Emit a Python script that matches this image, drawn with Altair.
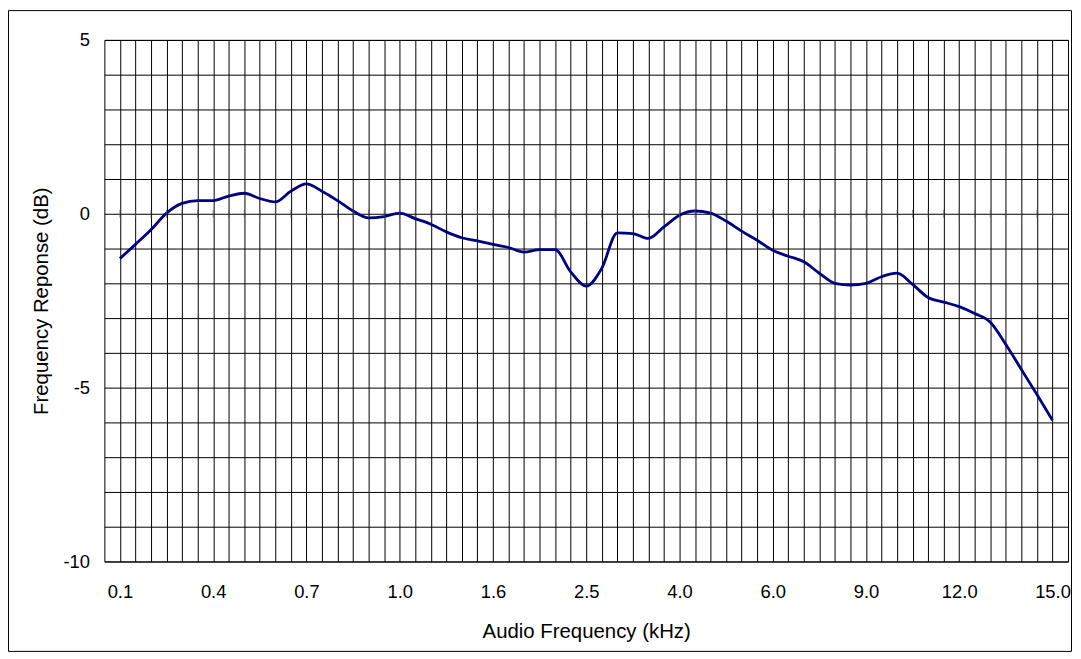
import altair as alt
import pandas as pd

# Category index of each measured point (61 points, labelled every 6th)
tick_labels = ["0.1", "0.4", "0.7", "1.0", "1.6", "2.5", "4.0", "6.0", "9.0", "12.0", "15.0"]
response_db = [
    -1.29, -0.88, -0.46, 0.02, 0.30, 0.38, 0.38, 0.51, 0.59, 0.44, 0.34, 0.65,
    0.86, 0.65, 0.38, 0.08, -0.12, -0.08, 0.02, -0.14, -0.30, -0.52, -0.69, -0.78,
    -0.88, -0.97, -1.10, -1.03, -1.03, -1.67, -2.08, -1.57, -0.55, -0.57, -0.71, -0.38,
    -0.04, 0.08, 0.02, -0.21, -0.50, -0.76, -1.05, -1.22, -1.38, -1.71, -2.00, -2.05,
    -2.00, -1.81, -1.71, -2.03, -2.41, -2.54, -2.67, -2.87, -3.12, -3.76, -4.48, -5.20,
    -5.94,
]
idx = list(range(len(response_db)))
y_ticks = list(range(-10, 6))

df = pd.DataFrame({"i": idx, "db": response_db})
zero_df = pd.DataFrame({"i": idx, "db": [0] * len(idx)})
frame_df = pd.DataFrame({"k": [0]})

label_js = "[" + ",".join("'" + t + "'" for t in tick_labels) + "]"
FONT = "Liberation Sans"

x_scale = alt.Scale(domain=[-1, 61], nice=False, zero=False)
y_scale = alt.Scale(domain=[-10, 5], nice=False, zero=False)

x_axis = alt.Axis(
    values=idx, tickCount=500,
    labelExpr=f"datum.value % 6 == 0 ? {label_js}[datum.value / 6] : ''",
    labelOverlap=False,
    grid=True, gridColor="#000", gridOpacity=1, gridWidth=1,
    ticks=False, domain=False,
    labelFont=FONT, labelFontSize=18.5, labelColor="#000", labelPadding=21,
    title="Audio Frequency (kHz)", titleFont=FONT, titleFontSize=20.5,
    titleFontWeight="normal", titleColor="#000", titlePadding=21,
)
y_axis = alt.Axis(
    values=y_ticks, tickCount=500,
    labelExpr="datum.value % 5 == 0 ? '' + datum.value : ''",
    labelOverlap=False,
    grid=True, gridColor="#000", gridOpacity=1, gridWidth=1,
    ticks=False, domain=False,
    labelFont=FONT, labelFontSize=18.5, labelColor="#000", labelPadding=15,
    title="Frequency Reponse (dB)", titleFont=FONT, titleFontSize=20.5,
    titleFontWeight="normal", titleColor="#000", titlePadding=12,
)

line = alt.Chart(df).mark_line(
    color="#000080", strokeWidth=2.8, interpolate="monotone"
).encode(
    x=alt.X("i:Q", scale=x_scale, axis=x_axis),
    y=alt.Y("db:Q", scale=y_scale, axis=y_axis),
)

zero_ticks = alt.Chart(zero_df).mark_tick(
    color="#555", size=8, thickness=1, orient="vertical"
).encode(
    x=alt.X("i:Q", scale=x_scale, axis=x_axis),
    y=alt.Y("db:Q", scale=y_scale, axis=y_axis),
)

frame = alt.Chart(frame_df).mark_rect(
    fill="transparent", stroke="#000", strokeWidth=1
).encode(
    x=alt.value(-96.5), x2=alt.value(973.5),
    y=alt.value(-29.5), y2=alt.value(615.5),
)

chart = alt.layer(line, zero_ticks, frame).properties(
    width=970, height=525,
    autosize=alt.AutoSizeParams(type="none"),
    padding={"left": 97, "top": 30, "right": 5, "bottom": 92},
    background="white",
).configure_view(stroke="#000", strokeWidth=1)

chart.save("out.html", embed_options={"renderer": "svg", "actions": False})
